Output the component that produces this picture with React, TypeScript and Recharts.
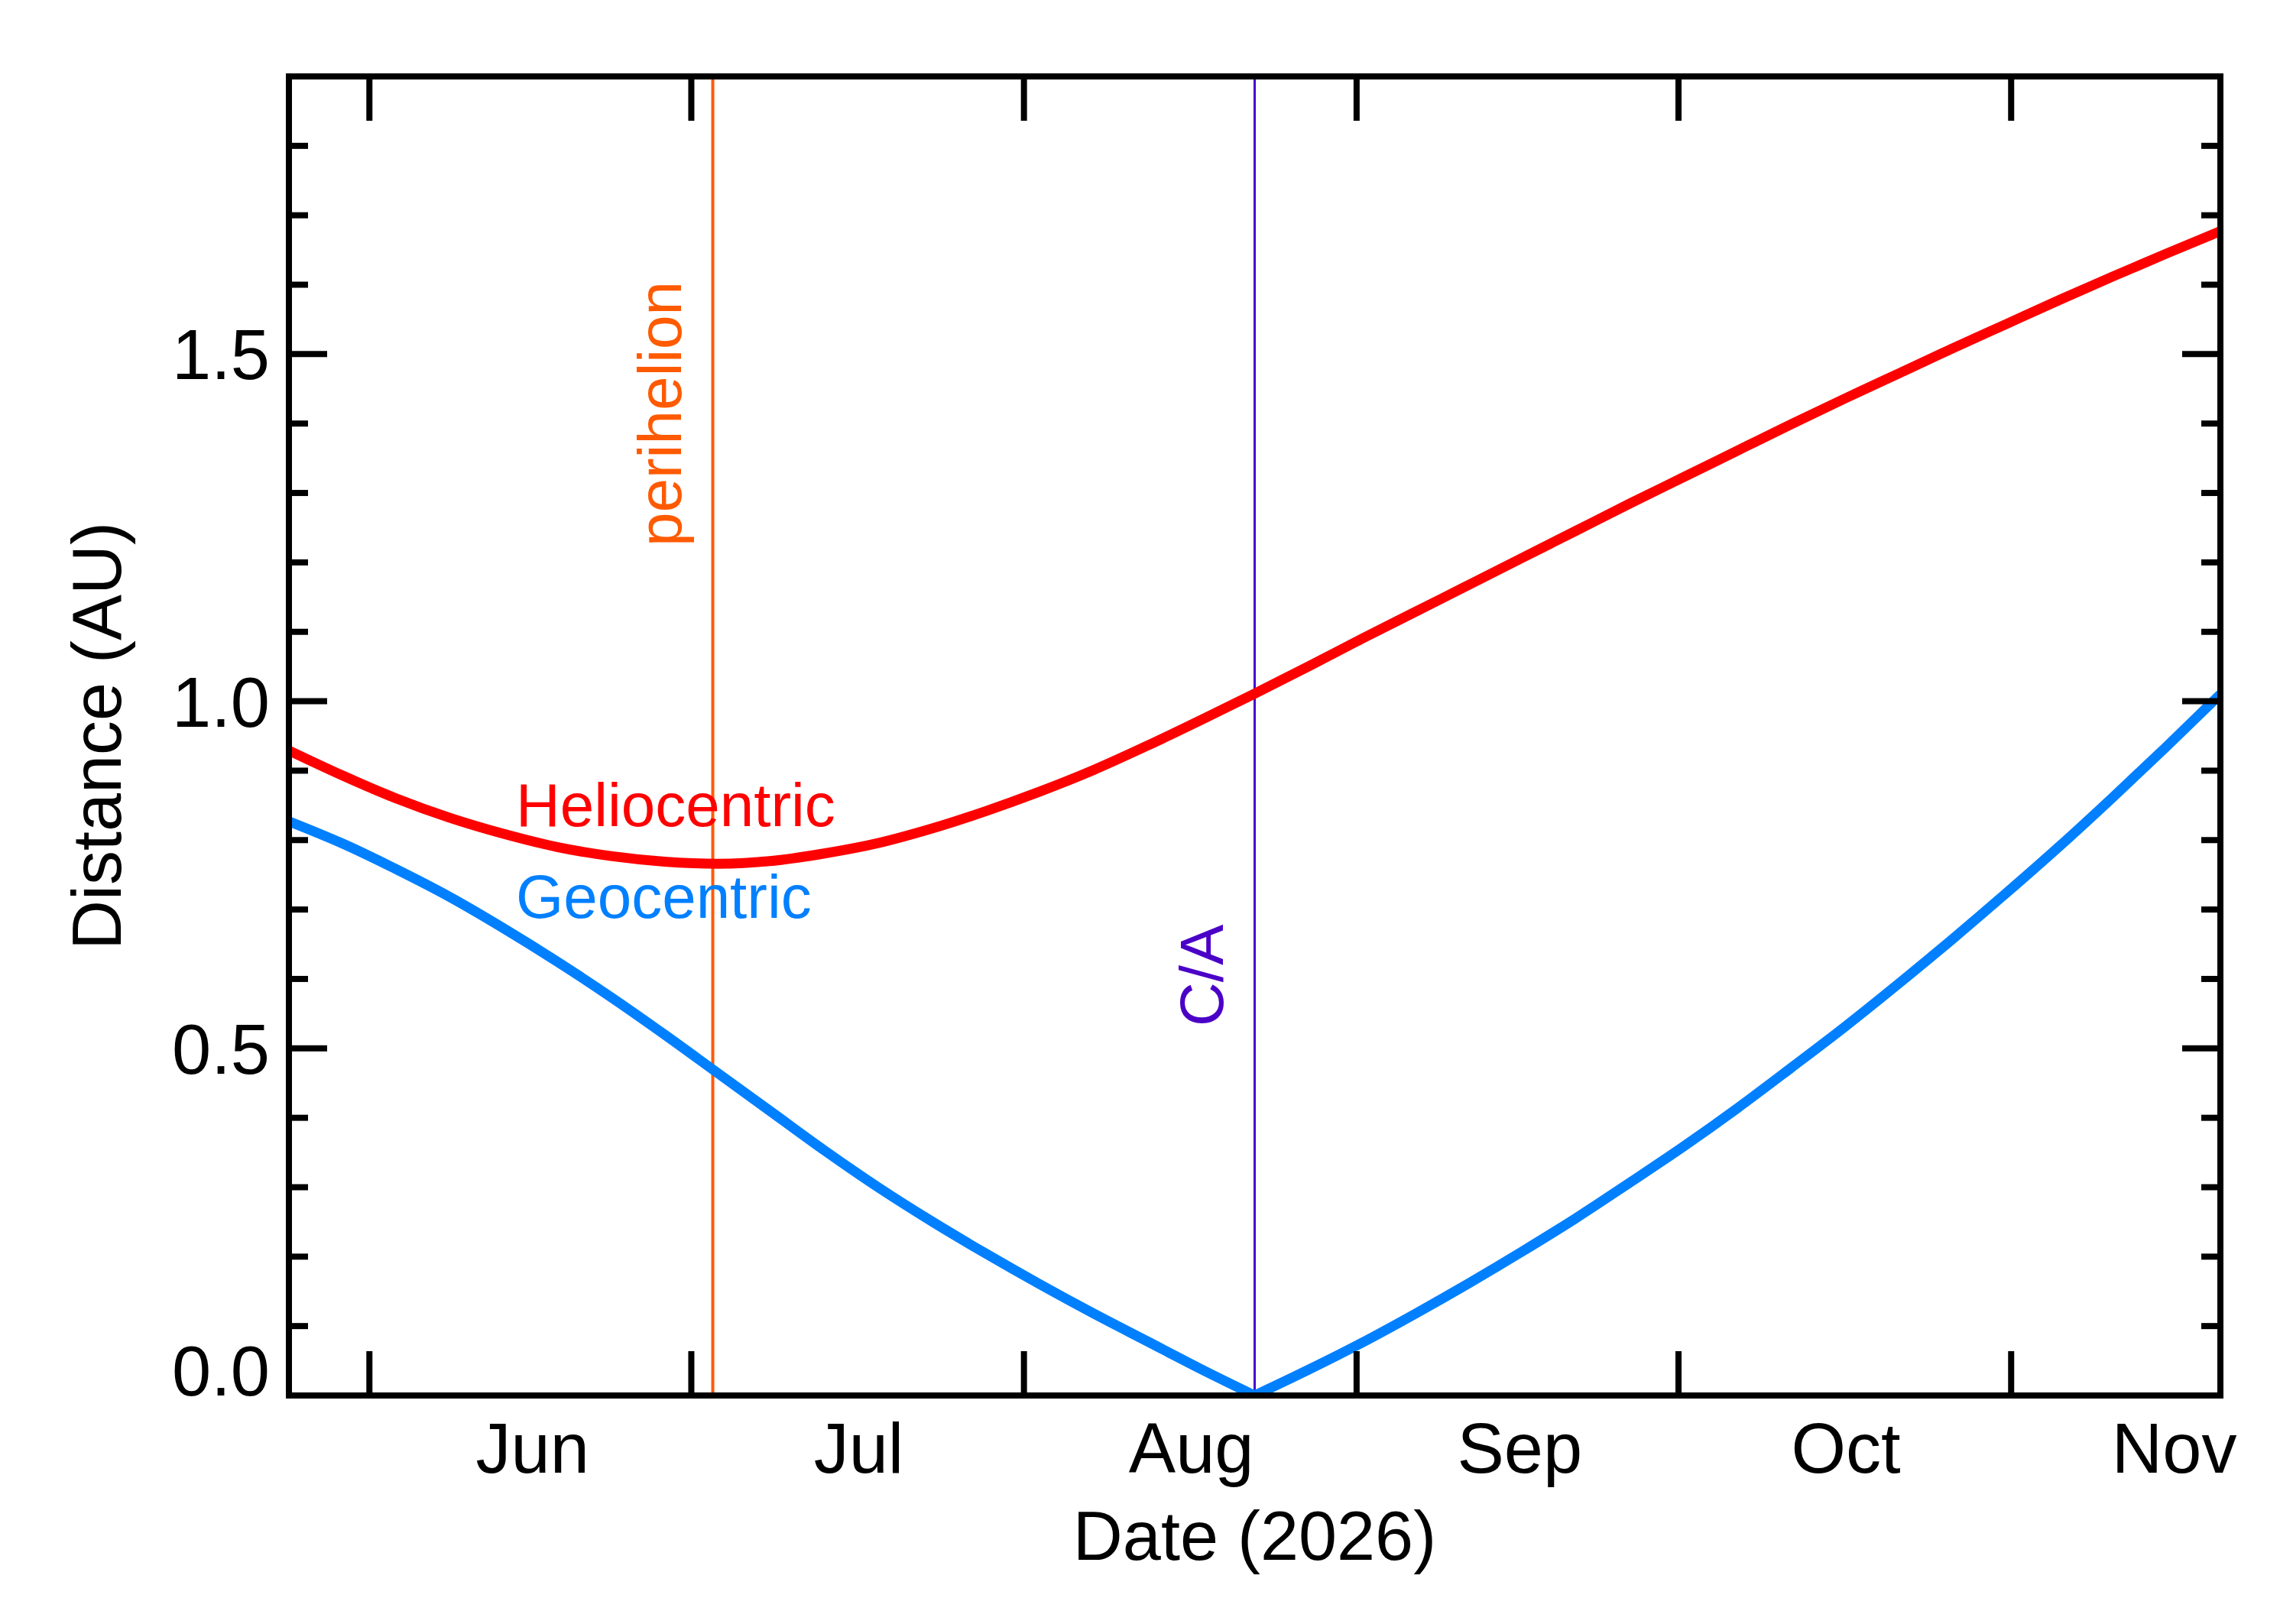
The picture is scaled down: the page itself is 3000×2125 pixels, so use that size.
import React from 'react';
import { LineChart, Line, XAxis, YAxis, ReferenceLine, ReferenceDot } from 'recharts';

// Day numbers counted from 2026-01-01 (= day 0)
const days = [
  143.5, 148.5, 153.5, 158.5, 163.5, 168.5, 173.5, 178.5, 183.5, 188.5,
  193.5, 198.5, 203.5, 208.5, 213.5, 218.5, 223.5, 228.5, 233.5, 238.5,
  243.5, 248.5, 253.5, 258.5, 263.5, 268.5, 273.5, 278.5, 283.5, 288.5,
  293.5, 298.5, 303.5, 308.5, 313.5, 318.5, 323.5,
];
const heliocentric = [
  0.929, 0.893, 0.860, 0.832, 0.809, 0.790, 0.777, 0.769, 0.766, 0.770,
  0.781, 0.796, 0.817, 0.842, 0.870, 0.901, 0.936, 0.973, 1.011, 1.050,
  1.090, 1.129, 1.168, 1.207, 1.246, 1.285, 1.323, 1.361, 1.399, 1.436,
  1.472, 1.508, 1.543, 1.578, 1.612, 1.645, 1.677,
];
const geocentric = [
  0.827, 0.795, 0.758, 0.718, 0.673, 0.625, 0.574, 0.520, 0.464, 0.408,
  0.352, 0.299, 0.250, 0.204, 0.160, 0.118, 0.078, 0.038, 0.000, 0.037,
  0.076, 0.118, 0.162, 0.208, 0.256, 0.307, 0.359, 0.414, 0.472, 0.531,
  0.593, 0.657, 0.723, 0.791, 0.862, 0.935, 1.010,
];
const monthStartDays = [151, 181, 212, 243, 273, 304];
const monthLabelDays = [166.2, 196.6, 227.6, 258.2, 288.6, 319.2];
const monthLabels = ['Jun', 'Jul', 'Aug', 'Sep', 'Oct', 'Nov'];
const yTicks = [0, 0.1, 0.2, 0.3, 0.4, 0.5, 0.6, 0.7, 0.8, 0.9, 1.0, 1.1, 1.2, 1.3, 1.4, 1.5, 1.6, 1.7, 1.8, 1.9];
const xDomain = [143.5, 323.5];
const yDomain = [0, 1.9];
const perihelionDay = 183.0;
const closeApproachDay = 233.5;
const labelDay = 164.65;
const helioLabelY = 0.82;
const geoLabelY = 0.688;

// geocentric split at closest approach so the minimum stays a sharp vertex
const data = days.map((d, i) => ({
  day: d,
  helio: heliocentric[i],
  geoIn: d <= closeApproachDay ? geocentric[i] : null,
  geoOut: d >= closeApproachDay ? geocentric[i] : null,
}));

const FONT = '"Liberation Sans", Arial, Helvetica, sans-serif';
const AXIS_W = 8;
const TICK_W = 8;

const isMajor = (v: number) => Math.abs(v * 2 - Math.round(v * 2)) < 1e-6;

const LeftTick = (props: any) => {
  const { x, y, payload } = props;
  const v = payload.value;
  const major = isMajor(v);
  const len = major ? 50 : 25;
  return (
    <g>
      <line x1={x} x2={x + len} y1={y} y2={y} stroke="#000" strokeWidth={TICK_W} />
      {major && (
        <text x={x - 25} y={v === 0 ? y : y + 33} textAnchor="end" fontSize={92} fontFamily={FONT} fill="#000">
          {v.toFixed(1)}
        </text>
      )}
    </g>
  );
};

const RightTick = (props: any) => {
  const { x, y, payload } = props;
  const len = isMajor(payload.value) ? 50 : 25;
  return <line x1={x} x2={x - len} y1={y} y2={y} stroke="#000" strokeWidth={TICK_W} />;
};

const BottomTick = (props: any) => {
  const { x, y, payload } = props;
  const v = payload.value;
  const si = monthStartDays.indexOf(v);
  if (si >= 0) {
    return <line x1={x} x2={x} y1={y} y2={y - 58} stroke="#000" strokeWidth={TICK_W} />;
  }
  const li = monthLabelDays.indexOf(v);
  if (li >= 0) {
    return (
      <text x={x} y={y + 101} textAnchor="middle" fontSize={92} fontFamily={FONT} fill="#000">
        {monthLabels[li]}
      </text>
    );
  }
  return null;
};

const TopTick = (props: any) => {
  const { x, y } = props;
  return <line x1={x} x2={x} y1={y} y2={y + 58} stroke="#000" strokeWidth={TICK_W} />;
};

const axisLineStyle = { stroke: '#000', strokeWidth: AXIS_W, strokeLinecap: 'square' as const };

export default function App() {
  return (
    <div style={{ position: 'absolute', left: 0, top: 0, width: 3000, height: 2125, background: '#fff' }}>
      <LineChart
        width={3000}
        height={2125}
        data={data}
        margin={{ top: 50, right: 45, bottom: 199, left: 278 }}
      >
        <XAxis
          xAxisId="bottom"
          orientation="bottom"
          dataKey="day"
          type="number"
          domain={xDomain}
          allowDataOverflow
          ticks={[...monthStartDays, ...monthLabelDays]}
          interval={0}
          height={100}
          tickSize={0}
          tickMargin={0}
          tickLine={false}
          axisLine={axisLineStyle}
          tick={(p: any) => <BottomTick {...p} />}
          label={{
            content: (p: any) => {
              const vb = p.viewBox || { x: 378, y: 1826, width: 2527, height: 100 };
              return (
                <text x={vb.x + vb.width / 2} y={vb.y + 215} textAnchor="middle" fontSize={90} fontFamily={FONT} fill="#000">
                  Date (2026)
                </text>
              );
            },
          }}
        />
        <XAxis
          xAxisId="top"
          orientation="top"
          dataKey="day"
          type="number"
          domain={xDomain}
          allowDataOverflow
          ticks={monthStartDays}
          interval={0}
          height={50}
          tickSize={0}
          tickMargin={0}
          tickLine={false}
          axisLine={axisLineStyle}
          tick={(p: any) => <TopTick {...p} />}
        />
        <YAxis
          yAxisId="left"
          orientation="left"
          type="number"
          domain={yDomain}
          allowDataOverflow
          ticks={yTicks}
          interval={0}
          width={100}
          tickSize={0}
          tickMargin={0}
          tickLine={false}
          axisLine={axisLineStyle}
          tick={(p: any) => <LeftTick {...p} />}
          label={{
            content: (p: any) => {
              const vb = p.viewBox || { x: 278, y: 100, width: 100, height: 1726 };
              const bx = vb.x + vb.width - 220;
              const cy = vb.y + vb.height / 2;
              return (
                <text
                  x={bx}
                  y={cy}
                  transform={`rotate(-90, ${bx}, ${cy})`}
                  textAnchor="middle"
                  fontSize={90}
                  fontFamily={FONT}
                  fill="#000"
                >
                  Distance (AU)
                </text>
              );
            },
          }}
        />
        <YAxis
          yAxisId="right"
          orientation="right"
          type="number"
          domain={yDomain}
          allowDataOverflow
          ticks={yTicks}
          interval={0}
          width={50}
          tickSize={0}
          tickMargin={0}
          tickLine={false}
          axisLine={axisLineStyle}
          tick={(p: any) => <RightTick {...p} />}
        />
        <ReferenceLine
          xAxisId="bottom"
          yAxisId="left"
          x={perihelionDay}
          stroke="#ff5a00"
          strokeWidth={4}
          label={{
            content: (p: any) => {
              const vb = p.viewBox;
              if (!vb) return null;
              const bx = vb.x - 42;
              const sy = vb.y + 615;
              return (
                <text x={bx} y={sy} transform={`rotate(-90, ${bx}, ${sy})`} textAnchor="start" fontSize={80} fontFamily={FONT} fill="#ff5a00">
                  perihelion
                </text>
              );
            },
          }}
        />
        <ReferenceLine
          xAxisId="bottom"
          yAxisId="left"
          x={closeApproachDay}
          stroke="#4b00d0"
          strokeWidth={3}
          label={{
            content: (p: any) => {
              const vb = p.viewBox;
              if (!vb) return null;
              const bx = vb.x - 42;
              const sy = vb.y + 1243;
              return (
                <text x={bx} y={sy} transform={`rotate(-90, ${bx}, ${sy})`} textAnchor="start" fontSize={80} fontFamily={FONT} fill="#4b00c8">
                  C/A
                </text>
              );
            },
          }}
        />
        <Line
          xAxisId="bottom"
          yAxisId="left"
          type="monotone"
          dataKey="helio"
          stroke="#ff0000"
          strokeWidth={13}
          dot={false}
          activeDot={false}
          isAnimationActive={false}
        />
        <Line
          xAxisId="bottom"
          yAxisId="left"
          type="monotone"
          dataKey="geoIn"
          stroke="#0080ff"
          strokeWidth={13}
          dot={false}
          activeDot={false}
          connectNulls={false}
          isAnimationActive={false}
        />
        <Line
          xAxisId="bottom"
          yAxisId="left"
          type="monotone"
          dataKey="geoOut"
          stroke="#0080ff"
          strokeWidth={13}
          dot={false}
          activeDot={false}
          connectNulls={false}
          isAnimationActive={false}
        />
        <ReferenceDot
          xAxisId="bottom"
          yAxisId="left"
          x={labelDay}
          y={helioLabelY}
          r={1}
          fill="none"
          stroke="none"
          label={{
            content: (p: any) => {
              const vb = p.viewBox;
              if (!vb) return null;
              return (
                <text x={vb.x + 1} y={vb.y + 1} textAnchor="start" fontSize={80} fontFamily={FONT} fill="#ff0000">
                  Heliocentric
                </text>
              );
            },
          }}
        />
        <ReferenceDot
          xAxisId="bottom"
          yAxisId="left"
          x={labelDay}
          y={geoLabelY}
          r={1}
          fill="none"
          stroke="none"
          label={{
            content: (p: any) => {
              const vb = p.viewBox;
              if (!vb) return null;
              return (
                <text x={vb.x + 1} y={vb.y + 1} textAnchor="start" fontSize={80} fontFamily={FONT} fill="#0080ff">
                  Geocentric
                </text>
              );
            },
          }}
        />
      </LineChart>
    </div>
  );
}
